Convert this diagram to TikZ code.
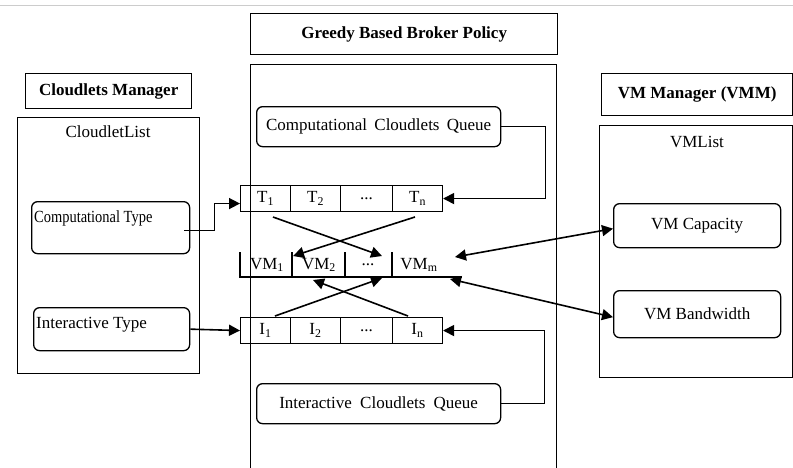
\documentclass[tikz,border=0pt]{standalone}
\usepackage{fontspec}
\setmainfont{Liberation Serif}
\usetikzlibrary{arrows.meta,calc}
\begin{document}
\begin{tikzpicture}[x=1pt,y=-1pt,
  box/.style={draw,line width=1.3pt,inner sep=0pt,anchor=north west},
  rbox/.style={draw,line width=1.3pt,rounded corners=6pt,inner sep=0pt,anchor=north west},
  cell/.style={draw,line width=1.1pt,minimum height=26pt,inner sep=0pt,anchor=north west},
  lbl/.style={inner sep=0pt},
  bold/.style={font=\bfseries\fontsize{17}{19}\selectfont},
  arr/.style={line width=1.6pt,-{Triangle[length=11pt,width=11pt]}},
  darr/.style={line width=1.6pt,{Triangle[length=11pt,width=11pt]}-{Triangle[length=11pt,width=11pt]}},
  every node/.style={font=\fontsize{17}{19}\selectfont}
]
\useasboundingbox (0,0) rectangle (793,467);
\draw[black!20,line width=0.6pt] (0,5) -- (793,5);

% broker
\node[box,bold,minimum width=307pt,minimum height=41pt] (greedy) at (250,13) {Greedy Based Broker Policy};
\node[box,minimum width=306pt,minimum height=412pt] (broker) at (250,64) {};
\node[rbox,minimum width=244pt,minimum height=40pt] (CCQ) at (256,106) {Computational\hspace{3pt} Cloudlets\hspace{3pt} Queue};
\node[rbox,minimum width=244pt,minimum height=40pt] (ICQ) at (256,383) {Interactive\hspace{4pt} Cloudlets\hspace{4pt} Queue};

% T row
\node[cell,minimum width=50pt] (T1) at (240,185) {T\textsubscript{1}};
\node[cell,minimum width=50pt] (T2) at (290,185) {T\textsubscript{2}};
\node[cell,minimum width=52pt] (Td) at (340,185) {...};
\node[cell,minimum width=50pt] (Tn) at (392,185) {T\textsubscript{n}};
% I row
\node[cell,minimum width=50pt] (I1) at (240,317) {I\textsubscript{1}};
\node[cell,minimum width=50pt] (I2) at (290,317) {I\textsubscript{2}};
\node[cell,minimum width=52pt] (Id) at (340,317) {...};
\node[cell,minimum width=50pt] (In) at (392,317) {I\textsubscript{n}};

% VM row
\node[lbl] (VM1) at (267,265) {VM\textsubscript{1}};
\node[lbl] (VM2) at (319,265) {VM\textsubscript{2}};
\node[lbl] (VMd) at (368,265) {...};
\node[lbl] (VMm) at (419,265) {VM\textsubscript{m}};
\draw[line width=1.1pt] (240,252) -- (240,277) -- (462,277);
\foreach \x in {292,345,392} \draw[line width=1.1pt] (\x,252) -- (\x,277);

% crossing arrows
\coordinate (t1s) at (273,217);
\coordinate (tns) at (415,217);
\coordinate (i1n) at (275,316);
\coordinate (inn) at (408,316);
\coordinate (vmdt) at (382,256);
\coordinate (vm2t) at (293,256);
\coordinate (vmdb) at (382,278);
\coordinate (vm2b) at (313,280);
\draw[arr] (t1s) -- (vmdt);
\draw[arr] (tns) -- (vm2t);
\draw[arr] (i1n) -- (vmdb);
\draw[arr] (inn) -- (vm2b);

\draw[arr] (CCQ.east) -- ++(44,0) |- (Tn.east);
\draw[arr] (ICQ.east) -- ++(43,0) |- (In.east);

% cloudlets manager
\node[box,bold,minimum width=166pt,minimum height=35pt] (CM) at (25,73) {Cloudlets Manager};
\node[box,minimum width=182pt,minimum height=256pt] (CL) at (17,117) {};
\node[lbl] (CLt) at (108,132) {CloudletList};
\node[rbox,minimum width=158pt,minimum height=52pt] (CT) at (31,201) {};
\node[lbl,anchor=west] (CTt) at (34,218) {\scalebox{0.85}[1]{Computational Type}};
\node[rbox,minimum width=156pt,minimum height=43pt] (IT) at (33,307) {};
\node[lbl,anchor=west] (ITt) at (36,325) {Interactive Type};

\draw[arr] ($(CT.east)+(-6,3)$) -- ++(30,0) |- ($(T1.west)+(0,5)$);
\draw[arr] (IT.east) -- (I1.west);

% VM manager
\node[box,bold,minimum width=191pt,minimum height=42pt] (VMM) at (601,73) {VM Manager (VMM)};
\node[box,minimum width=193pt,minimum height=252pt] (VL) at (599,125) {};
\node[lbl] (VLt) at (697,142) {VMList};
\node[rbox,minimum width=167pt,minimum height=44pt] (Cap) at (613,203) {VM Capacity};
\node[rbox,minimum width=167pt,minimum height=47pt] (BW) at (613,290) {VM Bandwidth};

\coordinate (vmr1) at (455,257);
\coordinate (vmr2) at (450,279);
\draw[darr] (vmr1) -- ($(Cap.west)+(0,3)$);
\draw[darr] (vmr2) -- ($(BW.west)+(0,3)$);
\end{tikzpicture}
\end{document}
